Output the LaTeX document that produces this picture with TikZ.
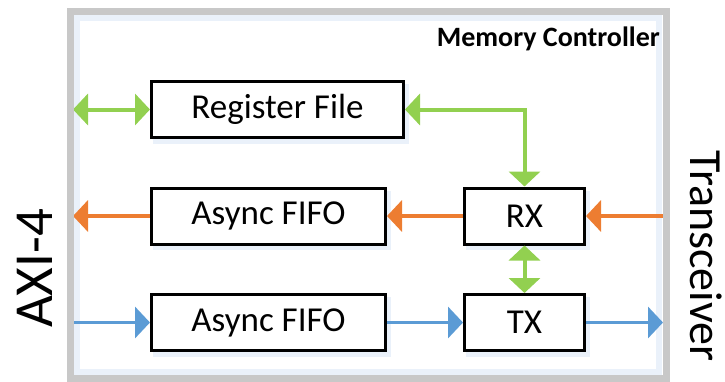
\documentclass[tikz,border=0pt]{standalone}
\usepackage{fontspec}
\setmainfont{Carlito}
\usetikzlibrary{arrows.meta}
\definecolor{gframe}{RGB}{200,200,200}
\definecolor{glow}{RGB}{234,241,250}
\definecolor{cgreen}{RGB}{146,208,80}
\definecolor{corange}{RGB}{237,125,49}
\definecolor{cblue}{RGB}{91,155,213}
\tikzset{
  blk/.style={draw=black, line width=3pt, fill=white, inner sep=0pt, minimum height=56pt, font=\fontsize{35}{40}\selectfont},
  conn/.style={line width=4pt, arrows={-Triangle[length=15pt,width=31pt]}},
  gconn/.style={conn, cgreen, arrows={Triangle[length=15pt,width=31pt]-Triangle[length=15pt,width=31pt]}},
  oconn/.style={conn, corange},
  bconn/.style={conn, cblue, line width=3.5pt},
}
\begin{document}
\begin{tikzpicture}[x=1pt,y=-1pt]
\useasboundingbox (0,0) rectangle (725,381);
% frame inner glow
\draw[glow, line width=6pt] (77,18) rectangle (659,372);
% shadows
\fill[glow] (153,84) rectangle (409,144);
\fill[glow] (153,191) rectangle (391,250);
\fill[glow] (153,297) rectangle (391,357);
\fill[glow] (466,191) rectangle (590,250);
\fill[glow] (466,297) rectangle (590,357);
% blocks
\node[blk, minimum width=252pt] (reg) at (277.5,109.5) {Register File};
\node[blk, minimum width=234pt] (fifoa) at (268.5,216) {Async FIFO};
\node[blk, minimum width=234pt] (fifob) at (268.5,322.5) {Async FIFO};
\node[blk, minimum width=120pt] (rx) at (524.5,216) {RX};
\node[blk, minimum width=120pt] (tx) at (524.5,322.5) {TX};
% boundary points
\coordinate (lreg) at (73,109.5);
\coordinate (lfa) at (73,216);
\coordinate (lfb) at (74,322.5);
\coordinate (rrx) at (663,216);
\coordinate (rtx) at (663,322.5);
% connectors
\draw[gconn] (lreg) -- (reg.west);
\draw[gconn] (reg.east) -| (rx.north);
\draw[gconn] (rx.south) -- (tx.north);
\draw[oconn] (rrx) -- (rx.east);
\draw[oconn] (rx.west) -- (fifoa.east);
\draw[oconn] (fifoa.west) -- (lfa);
\draw[bconn] (lfb) -- (fifob.west);
\draw[bconn] (fifob.east) -- (tx.west);
\draw[bconn] (tx.east) -- (rtx);
% frame
\draw[gframe, line width=7pt] (70.5,11.5) rectangle (666,378.5);
% labels
\node[anchor=base east, inner sep=0pt, font=\bfseries\fontsize{28}{32}\selectfont] (mc) at (660,46) {Memory Controller};
\node[rotate=90, anchor=base, inner sep=0pt, font=\fontsize{55}{60}\selectfont] (axi) at (52,268.5) {AXI-4};
\node[rotate=-90, anchor=base, inner sep=0pt, font=\fontsize{46}{50}\selectfont] (trx) at (690,256) {Transceiver};
\end{tikzpicture}
\end{document}
